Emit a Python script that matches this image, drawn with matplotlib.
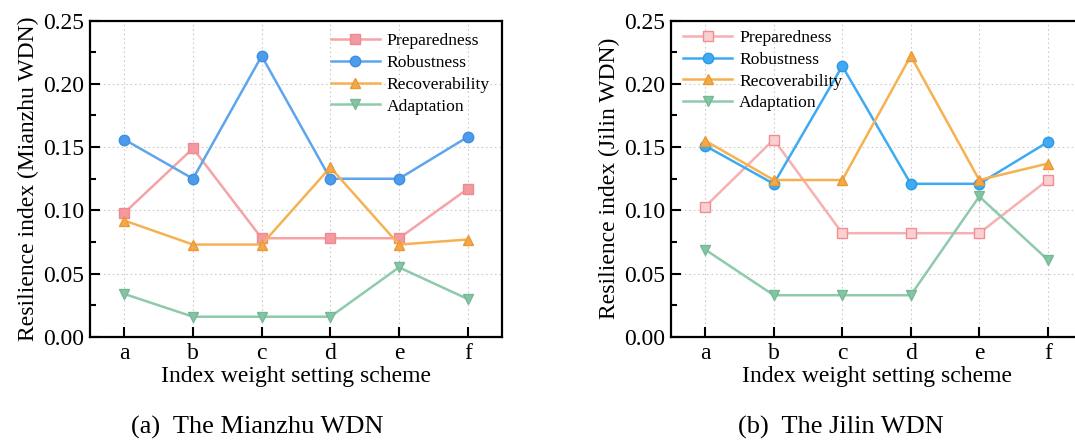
import matplotlib
matplotlib.use("Agg")
from matplotlib import pyplot as plt
from matplotlib.ticker import MultipleLocator
import numpy as np

plt.rcParams["font.family"] = ["Liberation Serif", "DejaVu Serif"]
plt.rcParams["mathtext.fontset"] = "stix"

schemes = ["a", "b", "c", "d", "e", "f"]
series = ["Preparedness", "Robustness", "Recoverability", "Adaptation"]

# Mianzhu WDN
mz_prep = [0.098, 0.149, 0.078, 0.078, 0.078, 0.117]
mz_rob = [0.156, 0.125, 0.222, 0.125, 0.125, 0.158]
mz_rec = [0.092, 0.073, 0.073, 0.134, 0.073, 0.077]
mz_ada = [0.034, 0.016, 0.016, 0.016, 0.055, 0.030]

# Jilin WDN
jl_prep = [0.103, 0.156, 0.082, 0.082, 0.082, 0.124]
jl_rob = [0.151, 0.121, 0.214, 0.121, 0.121, 0.154]
jl_rec = [0.155, 0.124, 0.124, 0.222, 0.124, 0.137]
jl_ada = [0.069, 0.033, 0.033, 0.033, 0.111, 0.061]

styles_a = [dict(color="#F5A3A6", marker="s", mfc="#F29A9F", mec="#EE8A90"),
            dict(color="#5EA5EE", marker="o", mfc="#4D9BEB", mec="#3F8EE0"),
            dict(color="#F5B255", marker="^", mfc="#F5A845", mec="#E89A35"),
            dict(color="#8ECAAB", marker="v", mfc="#86C5A4", mec="#74B896")]
styles_b = [dict(color="#F7B0B2", marker="s", mfc="#FAD0D2", mec="#F08E94"),
            dict(color="#3EAAF2", marker="o", mfc="#3EAAF2", mec="#2E9AE5"),
            dict(color="#F6B150", marker="^", mfc="#F5A845", mec="#E89A35"),
            dict(color="#8ECAAB", marker="v", mfc="#86C5A4", mec="#74B896")]

fig = plt.figure(figsize=(10.75, 4.42), dpi=100)
ax1 = fig.add_axes([0.0837, 0.2376, 0.3833, 0.716])
ax2 = fig.add_axes([0.6242, 0.2376, 0.3823, 0.716])

x = np.arange(len(schemes))


def draw(ax, data, styles, ylabel, leg_loc, leg_anchor):
    for vals, name, st in zip(data, series, styles):
        ax.plot(x, vals, label=name, lw=1.8, ms=7.5, mew=1.0, **st)
    ax.set_xlim(-0.5, 5.5)
    ax.set_ylim(0, 0.25)
    ax.set_xticks(x)
    ax.set_xticklabels(schemes)
    ax.yaxis.set_major_locator(MultipleLocator(0.05))
    ax.yaxis.set_minor_locator(MultipleLocator(0.025))
    ax.yaxis.set_major_formatter(matplotlib.ticker.FormatStrFormatter("%.2f"))
    ax.tick_params(which="major", direction="in", length=7, width=1.5,
                   labelsize=17, pad=4)
    ax.tick_params(which="minor", direction="in", length=4, width=1.5)
    ax.tick_params(axis="x", which="minor", length=0)
    for sp in ax.spines.values():
        sp.set_linewidth(1.6)
    ax.grid(True, which="major", ls=(0, (1.5, 2.5)), lw=0.8, color="#CCCCCC")
    ax.set_axisbelow(True)
    ax.set_xlabel("Index weight setting scheme", fontsize=17, labelpad=2)
    ax.set_ylabel(ylabel, fontsize=17, labelpad=3)
    ax.legend(loc=leg_loc, bbox_to_anchor=leg_anchor, frameon=False,
              fontsize=12.6, handlelength=2.8, handletextpad=0.4,
              labelspacing=0.32, borderaxespad=0.3)


draw(ax1, [mz_prep, mz_rob, mz_rec, mz_ada], styles_a,
     "Resilience index (Mianzhu WDN)", "upper right", (1.0, 1.0))
draw(ax2, [jl_prep, jl_rob, jl_rec, jl_ada], styles_b,
     "Resilience index (Jilin WDN)", "upper left", (0.0, 1.01))

fig.text(0.239, 0.018, "(a)  The Mianzhu WDN", fontsize=19, ha="center")
fig.text(0.782, 0.018, "(b)  The Jilin WDN", fontsize=19, ha="center")

fig.savefig("out.png", dpi=100)
